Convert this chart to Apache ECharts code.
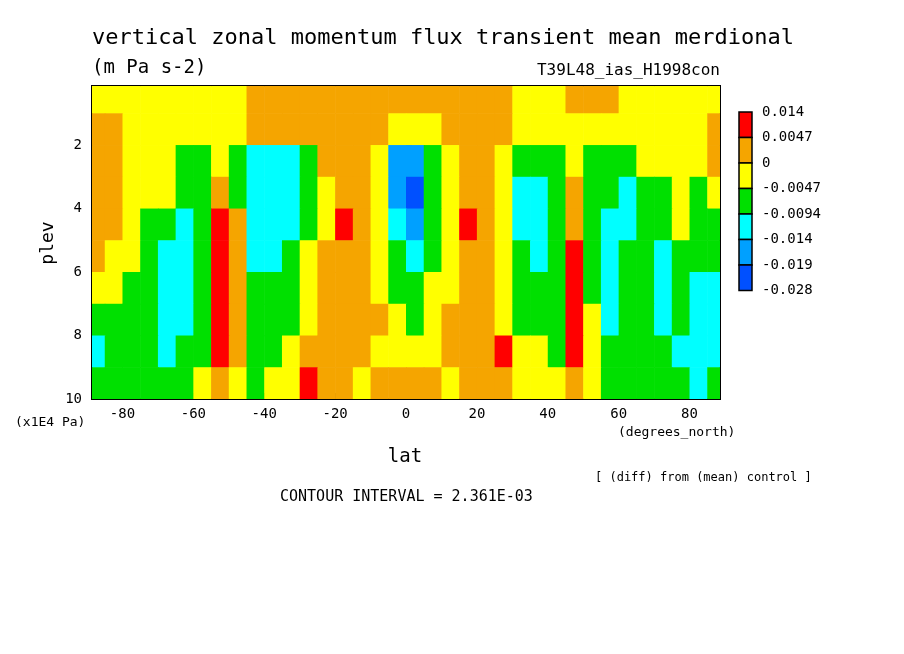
<!DOCTYPE html>
<html>
<head>
<meta charset="utf-8">
<script src="https://cdn.jsdelivr.net/npm/echarts@6/dist/echarts.min.js"></script>
<style>
html, body { margin: 0; padding: 0; background: #fff; }
#chart { width: 904px; height: 654px; }
</style>
</head>
<body>
<div id="chart"></div>
<script>
// latitude centres of the cells (degrees_north)
var lats = [-87.5, -82.5, -77.5, -72.5, -67.5, -62.5, -57.5, -52.5, -47.5, -42.5, -37.5, -32.5,
	-27.5, -22.5, -17.5, -12.5, -7.5, -2.5, 2.5, 7.5, 12.5, 17.5, 22.5, 27.5,
	32.5, 37.5, 42.5, 47.5, 52.5, 57.5, 62.5, 67.5, 72.5, 77.5, 82.5, 87.5];
// pressure level centres (x1E4 Pa)
var plevs = [0.5, 1.5, 2.5, 3.5, 4.5, 5.5, 6.5, 7.5, 8.5, 9.5];
// values, units of 1E-3 m Pa s-2, one row per plev
var row05 = [-2.3, -2.3, -2.3, -2.3, -2.3, -2.3, -2.3, -2.3, -2.3, 2.3, 2.3, 2.3, 2.3, 2.3, 2.3, 2.3, 2.3, 2.3, 2.3, 2.3, 2.3, 2.3, 2.3, 2.3, -2.3, -2.3, -2.3, 2.3, 2.3, 2.3, -2.3, -2.3, -2.3, -2.3, -2.3, -2.3];
var row15 = [2.3, 2.3, -2.3, -2.3, -2.3, -2.3, -2.3, -2.3, -2.3, 2.3, 2.3, 2.3, 2.3, 2.3, 2.3, 2.3, 2.3, -2.3, -2.3, -2.3, 2.3, 2.3, 2.3, 2.3, -2.3, -2.3, -2.3, -2.3, -2.3, -2.3, -2.3, -2.3, -2.3, -2.3, -2.3, 2.3];
var row25 = [2.3, 2.3, -2.3, -2.3, -2.3, -7, -7, -2.3, -7, -11.7, -11.7, -11.7, -7, 2.3, 2.3, 2.3, -2.3, -16.5, -16.5, -7, -2.3, 2.3, 2.3, -2.3, -7, -7, -7, -2.3, -7, -7, -7, -2.3, -2.3, -2.3, -2.3, 2.3];
var row35 = [2.3, 2.3, -2.3, -2.3, -2.3, -7, -7, 2.3, -7, -11.7, -11.7, -11.7, -7, -2.3, 2.3, 2.3, -2.3, -16.5, -22, -7, -2.3, 2.3, 2.3, -2.3, -11.7, -11.7, -7, 2.3, -7, -7, -11.7, -7, -7, -2.3, -7, -2.3];
var row45 = [2.3, 2.3, -2.3, -7, -7, -11.7, -7, 9, 2.3, -11.7, -11.7, -11.7, -7, -2.3, 9, 2.3, -2.3, -11.7, -16.5, -7, -2.3, 9, 2.3, -2.3, -11.7, -11.7, -7, 2.3, -7, -11.7, -11.7, -7, -7, -2.3, -7, -7];
var row55 = [2.3, -2.3, -2.3, -7, -11.7, -11.7, -7, 9, 2.3, -11.7, -11.7, -7, -2.3, 2.3, 2.3, 2.3, -2.3, -7, -11.7, -7, -2.3, 2.3, 2.3, -2.3, -7, -11.7, -7, 9, -7, -11.7, -7, -7, -11.7, -7, -7, -7];
var row65 = [-2.3, -2.3, -7, -7, -11.7, -11.7, -7, 9, 2.3, -7, -7, -7, -2.3, 2.3, 2.3, 2.3, -2.3, -7, -7, -2.3, -2.3, 2.3, 2.3, -2.3, -7, -7, -7, 9, -7, -11.7, -7, -7, -11.7, -7, -11.7, -11.7];
var row75 = [-7, -7, -7, -7, -11.7, -11.7, -7, 9, 2.3, -7, -7, -7, -2.3, 2.3, 2.3, 2.3, 2.3, -2.3, -7, -2.3, 2.3, 2.3, 2.3, -2.3, -7, -7, -7, 9, -2.3, -11.7, -7, -7, -11.7, -7, -11.7, -11.7];
var row85 = [-11.7, -7, -7, -7, -11.7, -7, -7, 9, 2.3, -7, -7, -2.3, 2.3, 2.3, 2.3, 2.3, -2.3, -2.3, -2.3, -2.3, 2.3, 2.3, 2.3, 9, -2.3, -2.3, -7, 9, -2.3, -7, -7, -7, -7, -11.7, -11.7, -11.7];
var row95 = [-7, -7, -7, -7, -7, -7, -2.3, 2.3, -2.3, -7, -2.3, -2.3, 9, 2.3, 2.3, -2.3, 2.3, 2.3, 2.3, 2.3, -2.3, 2.3, 2.3, 2.3, -2.3, -2.3, -2.3, 2.3, -2.3, -7, -7, -7, -7, -7, -11.7, -7];
var rows = [row05, row15, row25, row35, row45, row55, row65, row75, row85, row95];

// shading levels and colours (top to bottom of the colour bar)
var levelLabels = ['0.014', '0.0047', '0', '-0.0047', '-0.0094', '-0.014', '-0.019', '-0.028'];
var levelBounds = [0.014, 0.0047, 0, -0.0047, -0.0094, -0.014, -0.019, -0.028];
var levelColors = ['#ff0000', '#f5a500', '#ffff00', '#00e000', '#00ffff', '#00a0ff', '#0050ff'];

var latTicks = [-80, -60, -40, -20, 0, 20, 40, 60, 80];
var plevTicks = [2, 4, 6, 8, 10];

var cells = [];
for (var j = 0; j < plevs.length; j++) {
	for (var i = 0; i < lats.length; i++) {
		cells.push([lats[i], plevs[j], rows[j][i] / 1000]);
	}
}

var pieces = [];
for (var k = 0; k < levelColors.length; k++) {
	pieces.push({ gte: levelBounds[k + 1], lt: levelBounds[k], color: levelColors[k] });
}
pieces[0].lt = 1; pieces[pieces.length - 1].gte = -1;

var font = 'DejaVu Sans Mono';
var chart = echarts.init(document.getElementById('chart'));

// colour bar drawn with graphic boxes
var graphics = [];
var barX = 739, barTop = 112, boxH = 25.5;
for (var k = 0; k < levelColors.length; k++) {
	graphics.push({ type: 'rect', shape: { x: barX, y: barTop + k * boxH, width: 13, height: boxH },
		style: { fill: levelColors[k], stroke: '#000', lineWidth: 1.5 } });
}
for (var k = 0; k < levelLabels.length; k++) {
	graphics.push({ type: 'text', x: 762, y: barTop + k * boxH, style: { text: levelLabels[k],
		font: '14px ' + font, fill: '#000', textVerticalAlign: 'middle' } });
}
function txt(x, y, s, size, align) {
	graphics.push({ type: 'text', x: x, y: y, style: { text: s, font: size + 'px ' + font,
		fill: '#000', textAlign: align || 'left', textVerticalAlign: 'middle' } });
}
txt(92, 38, 'vertical zonal momentum flux transient mean merdional', 22);
txt(92, 68, '(m Pa s-2)', 19);
txt(720, 71, 'T39L48_ias_H1998con', 16, 'right');
txt(15, 423, '(x1E4 Pa)', 13);
txt(618, 433, '(degrees_north)', 13);
txt(405, 457, 'lat', 19, 'center');
txt(595, 478, '[ (diff) from (mean) control ]', 12);
txt(280, 497, 'CONTOUR INTERVAL = 2.361E-03', 15);
graphics.push({ type: 'text', x: 48, y: 243, rotation: Math.PI / 2, style: { text: 'plev',
	font: '18px ' + font, fill: '#000', textAlign: 'center', textVerticalAlign: 'middle' } });

var option = {
	animation: false,
	grid: { left: 92, top: 86, width: 628, height: 313, show: true, borderColor: '#000', borderWidth: 2, backgroundColor: 'transparent' },
	xAxis: {
		type: 'value', min: -88.6, max: 88.6,
		axisLine: { show: false },
		axisTick: { inside: true, length: 6, lineStyle: { color: '#000' }, customValues: latTicks },
		axisLabel: { customValues: latTicks, color: '#000', fontFamily: font, fontSize: 14, margin: 8 },
		splitLine: { show: false }
	},
	yAxis: {
		type: 'value', inverse: true, min: 0.14, max: 10,
		axisLine: { show: false },
		axisTick: { inside: true, length: 6, lineStyle: { color: '#000' }, customValues: plevTicks },
		axisLabel: { customValues: plevTicks, color: '#000', fontFamily: font, fontSize: 14, margin: 10 },
		splitLine: { show: false }
	},
	visualMap: { show: false, type: 'piecewise', dimension: 2, pieces: pieces },
	series: [{
		type: 'custom',
		clip: true,
		data: cells,
		encode: { x: 0, y: 1 },
		renderItem: function (params, api) {
			var a = api.coord([api.value(0) - 2.5, api.value(1) - 0.5]);
			var b = api.coord([api.value(0) + 2.5, api.value(1) + 0.5]);
			return {
				type: 'rect',
				shape: { x: Math.min(a[0], b[0]), y: Math.min(a[1], b[1]),
					width: Math.abs(b[0] - a[0]) + 0.6, height: Math.abs(b[1] - a[1]) + 0.6 },
				style: { fill: api.visual('color') }
			};
		}
	}],
	graphic: graphics
};
chart.setOption(option);
</script>
</body>
</html>
